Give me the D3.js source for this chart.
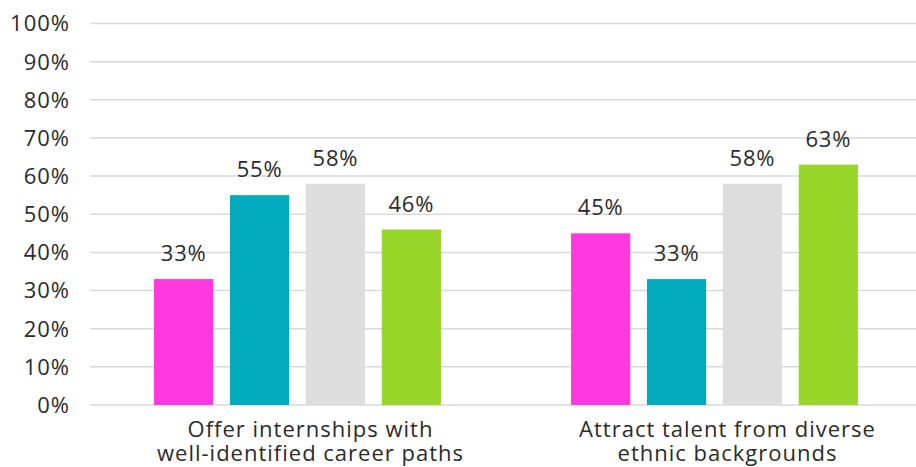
<!DOCTYPE html>
<html><head><meta charset="utf-8">
<script src="https://cdn.jsdelivr.net/npm/d3@7"></script>
<style>body{margin:0;background:#fff}svg{display:block}text{font-family:"Open Sans",Roboto,sans-serif;fill:#2b2b2b}</style>
</head><body><svg id="c" width="916" height="467"></svg>
<script>
const categories = [["Offer internships with","well-identified career paths"],["Attract talent from diverse","ethnic backgrounds"]];
const seriesNames = ["S1","S2","S3","S4"];
const seriesColors = ["#ff38e0","#00abbd","#dddddd","#99d62a"];
const values = [[33,55,58,46],[45,33,58,63]];
const yTicks = [0,10,20,30,40,50,60,70,80,90,100];

const svg = d3.select("#c");
const y = d3.scaleLinear().domain([0,100]).range([405,23.5]);
const x0 = d3.scaleBand().domain(d3.range(categories.length)).range([89,923]).padding(0);
const bw = x0.bandwidth();
const x1 = d3.scaleBand().domain(seriesNames).range([bw*0.156, bw*0.844]).paddingInner(0.22).paddingOuter(0);

svg.append("g").selectAll("line").data(yTicks).join("line")
  .attr("x1",90).attr("x2",916).attr("y1",d=>y(d)).attr("y2",d=>y(d))
  .attr("stroke","#d9d9d9").attr("stroke-width",1.5);

svg.append("g").selectAll("text").data(yTicks).join("text")
  .attr("x",70).attr("y",d=>y(d)).attr("dy","0.36em").attr("text-anchor","end")
  .attr("font-size",22).attr("letter-spacing",1).text(d=>d+"%");

const groups = svg.append("g").selectAll("g").data(values).join("g")
  .attr("transform",(d,i)=>`translate(${x0(i)},0)`);
groups.selectAll("rect").data(d=>d.map((v,j)=>({v,j}))).join("rect")
  .attr("x",d=>x1(seriesNames[d.j])).attr("width",x1.bandwidth())
  .attr("y",d=>y(d.v)).attr("height",d=>y(0)-y(d.v))
  .attr("fill",d=>seriesColors[d.j]);
groups.selectAll("text").data(d=>d.map((v,j)=>({v,j}))).join("text")
  .attr("x",d=>x1(seriesNames[d.j])+x1.bandwidth()/2).attr("y",d=>y(d.v)-18)
  .attr("text-anchor","middle").attr("font-size",22).attr("letter-spacing",0.8).text(d=>d.v+"%");

const cl = svg.append("g").selectAll("text").data(categories).join("text")
  .attr("x",(d,i)=>x0(i)+bw/2+13).attr("y",437).attr("text-anchor","middle").attr("font-size",22).attr("letter-spacing",1);
cl.selectAll("tspan").data(d=>d).join("tspan")
  .attr("x",function(){return this.parentNode.getAttribute("x");})
  .attr("dy",(d,i)=>i?23.5:0).text(d=>d);
</script></body></html>
